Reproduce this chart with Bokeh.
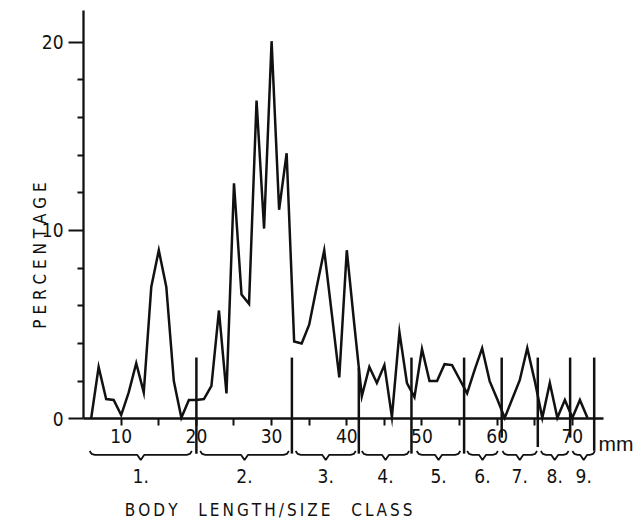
import math
from bokeh.plotting import figure
from bokeh.models import FixedTicker, ColumnDataSource, Range1d
from bokeh.core.properties import value
from bokeh.embed import file_html
from bokeh.resources import INLINE

# ---- data ----
sizes_mm = list(range(6, 73))
percentages = [
    0.0, 2.75, 1.05, 1.0, 0.2, 1.4, 2.95, 1.4, 7.0, 8.95,      # 6-15
    7.0, 2.0, 0.05, 1.0, 1.0, 1.05, 1.75, 5.75, 1.35, 12.5,    # 16-25
    6.6, 6.1, 16.9, 10.1, 20.05, 11.1, 14.1, 4.1, 4.0, 5.0,    # 26-35
    7.0, 8.95, 5.6, 2.2, 8.95, 5.0, 1.2, 2.75, 1.9, 2.85,      # 36-45
    0.1, 4.6, 1.9, 1.15, 3.7, 2.0, 2.0, 2.9, 2.85, 2.1,        # 46-55
    1.35, 2.6, 3.75, 2.0, 1.05, 0.05, 1.05, 2.05, 3.75, 2.0,   # 56-65
    0.05, 1.9, 0.05, 1.0, 0.05, 1.0, 0.05,                     # 66-72
]
x_ticks = [10, 20, 30, 40, 50, 60, 70]
x_minor_ticks = [15, 25, 35, 45, 55, 65]
y_ticks = [0, 10, 20]
y_minor_ticks = [2, 4, 6, 8, 12, 14, 16, 18]

class_labels = ["1.", "2.", "3.", "4.", "5.", "6.", "7.", "8.", "9."]
class_start = [5.8, 20.5, 33.2, 42.0, 49.3, 56.0, 60.7, 65.8, 70.0]
class_end = [19.4, 32.3, 41.2, 48.3, 55.1, 60.1, 65.3, 69.5, 73.0]
boundaries = [20.0, 32.7, 41.6, 48.6, 55.6, 60.6, 65.4, 69.7, 72.9]
boundary_top = [3.25, 3.25, 2.7, 3.25, 3.25, 3.25, 3.25, 3.25, 3.25]
boundary_bottom = [-1.85, -1.85, -1.85, -1.85, -1.85, -1.0, -1.5, -1.0, -1.7]

x_title = "BODY LENGTH/SIZE CLASS"
y_title = "PERCENTAGE"

NARROW = "DejaVu Sans Condensed"
INK = "#111111"
NB = "\u00a0"
THIN = "\u2009"


def spaced(s, sep, word_sep):
    words = s.split(" ")
    return word_sep.join(sep.join(w) for w in words)


p = figure(width=634, height=523, output_backend="svg", toolbar_location=None,
           x_range=Range1d(-6.05, 78.26), y_range=Range1d(-5.56, 22.21),
           min_border=0, outline_line_color=None)
p.grid.visible = False

# axes placed at fixed positions (x axis at 0 %, y axis at 5 mm)
xa = p.xaxis[0]
xa.fixed_location = 0
xa.bounds = (5, 74.1)
xa.ticker = FixedTicker(ticks=x_ticks, minor_ticks=x_minor_ticks)
xa.major_tick_out = 7
xa.major_tick_in = 0
xa.minor_tick_out = 7
xa.minor_tick_in = 0
xa.axis_line_width = 2.3
xa.major_tick_line_width = 2
xa.minor_tick_line_width = 2
xa.axis_line_color = INK
xa.major_tick_line_color = INK
xa.minor_tick_line_color = INK
xa.major_label_text_font = NARROW
xa.major_label_text_font_size = "19px"
xa.major_label_text_color = INK
xa.major_label_standoff = 3

ya = p.yaxis[0]
ya.fixed_location = 5
ya.bounds = (0, 21.7)
ya.ticker = FixedTicker(ticks=y_ticks, minor_ticks=y_minor_ticks)
ya.major_tick_out = 15
ya.major_tick_in = 0
ya.minor_tick_out = 6
ya.minor_tick_in = 0
ya.axis_line_width = 2.3
ya.major_tick_line_width = 2
ya.minor_tick_line_width = 2
ya.axis_line_color = INK
ya.major_tick_line_color = INK
ya.minor_tick_line_color = INK
ya.major_label_text_font = NARROW
ya.major_label_text_font_size = "19px"
ya.major_label_text_color = INK
ya.major_label_standoff = 5

# data line
p.line(sizes_mm, percentages, line_color=INK, line_width=2.5, line_join="miter")

# size class boundaries
p.segment(x0=boundaries, y0=boundary_top, x1=boundaries, y1=boundary_bottom,
          line_color=INK, line_width=2.5)

# braces under each size class
end_y, flat_y, tip_y = -1.71, -1.92, -2.19
bxs, bys, mids = [], [], []
for a, b in zip(class_start, class_end):
    m = (a + b) / 2
    mids.append(m)
    bxs.append([a, a + 0.25, a + 0.7, m - 0.45, m, m + 0.45, b - 0.7, b - 0.25, b])
    bys.append([end_y, flat_y + 0.06, flat_y, flat_y, tip_y, flat_y, flat_y, flat_y + 0.06, end_y])
p.multi_line(bxs, bys, line_color=INK, line_width=1.8)

cls_src = ColumnDataSource(dict(x=mids, y=[-3.04] * len(mids), t=class_labels))
p.text(x="x", y="y", text="t", source=cls_src, text_font=value(NARROW),
       text_font_size="19px", text_align="center", text_baseline="middle",
       text_color=INK)

# titles
p.text(x=[29.6], y=[-4.82],
       text=[spaced(x_title, THIN, THIN + NB * 3 + THIN)],
       text_font=value(NARROW), text_font_size="17px", text_align="center",
       text_baseline="middle", text_color=INK)
p.text(x=[-0.86], y=[8.67], text=[spaced(y_title, NB, NB)], angle=math.pi / 2,
       text_font=value(NARROW), text_font_size="17px", text_align="center",
       text_baseline="middle", text_color=INK)
p.text(x=[75.8], y=[-1.31], text=["mm"], text_font=value("Liberation Sans"),
       text_font_size="21px", text_align="center", text_baseline="alphabetic",
       text_color=INK)

open("out.html", "w").write(file_html(p, INLINE))
